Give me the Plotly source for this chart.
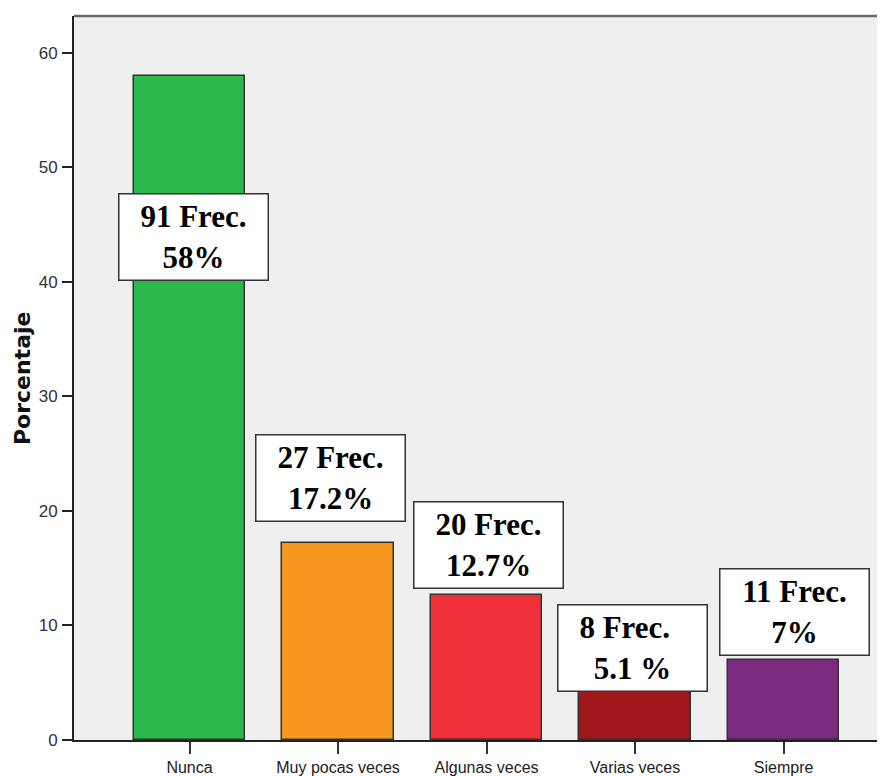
import plotly.graph_objects as go

categories = ["Nunca", "Muy pocas veces", "Algunas veces", "Varias veces", "Siempre"]
percentages = [58, 17.2, 12.7, 5.1, 7]
frequencies = [91, 27, 20, 8, 11]
label_lines2 = ["58%", "17.2%", "12.7%", "5.1 %", "7%"]
y_ticks = [0, 10, 20, 30, 40, 50, 60]

colors = ["#2DB84B", "#F7981F", "#EF3038", "#A1161A", "#7B2A7F"]

# label box placement (layout only)
box_y = [43.9, 22.85, 17.05, 8.03, 11.16]
box_xshift = [4, -8, 1.5, -3, 10.5]

fig = go.Figure()
fig.add_trace(go.Bar(
    x=list(range(len(categories))),
    y=percentages,
    width=0.75,
    marker=dict(color=colors, line=dict(color="#333333", width=1.5)),
    hoverinfo="skip",
))

annotations = []
for i, (f, l2) in enumerate(zip(frequencies, label_lines2)):
    line1 = f"{f} Frec."
    if categories[i] == "Varias veces":
        line1 = line1 + "&nbsp;&nbsp;"
    annotations.append(dict(
        x=i, y=box_y[i], xref="x", yref="y", xshift=box_xshift[i],
        text=f"<b>{line1}<br>{l2}</b>",
        showarrow=False,
        font=dict(family="Liberation Serif, Times New Roman, serif", size=31, color="black"),
        bgcolor="white", bordercolor="#333333", borderwidth=1.5, borderpad=0,
        width=148, height=85, align="center", valign="middle",
    ))

annotations.append(dict(
    x=-0.064, y=0.5, xref="paper", yref="paper",
    text="<b>Porcentaje</b>", textangle=-90, showarrow=False,
    font=dict(family="DejaVu Sans, Arial, sans-serif", size=22, color="#111111"),
    xanchor="center", yanchor="middle",
))

shapes = [dict(type="line", xref="paper", yref="paper", x0=0, x1=1, y0=1, y1=1,
               line=dict(color="#6a6a6a", width=2.5))]

fig.update_layout(
    width=877, height=768,
    margin=dict(l=66, r=0, t=8, b=32),
    paper_bgcolor="white",
    plot_bgcolor="#EFEFEF",
    showlegend=False,
    annotations=annotations,
    shapes=shapes,
    bargap=0,
    xaxis=dict(
        range=[-0.778, 4.683],
        tickmode="array",
        tickvals=list(range(len(categories))),
        ticktext=categories,
        showgrid=False, zeroline=False,
        showline=True, linecolor="#222222", linewidth=2,
        ticks="outside", ticklen=12, tickwidth=2, tickcolor="#333333",
        tickfont=dict(family="Liberation Sans, Arial, sans-serif", size=16, color="#222222"),
    ),
    yaxis=dict(
        range=[0, 63.2],
        tickmode="array",
        tickvals=y_ticks,
        showgrid=False, zeroline=False,
        showline=True, linecolor="#222222", linewidth=2,
        ticks="outside", ticklen=10, tickwidth=2, tickcolor="#222222",
        tickfont=dict(family="Liberation Sans, Arial, sans-serif", size=17, color="#333333"),
        ticklabelstandoff=1,
    ),
)

fig.write_html("out.html")
